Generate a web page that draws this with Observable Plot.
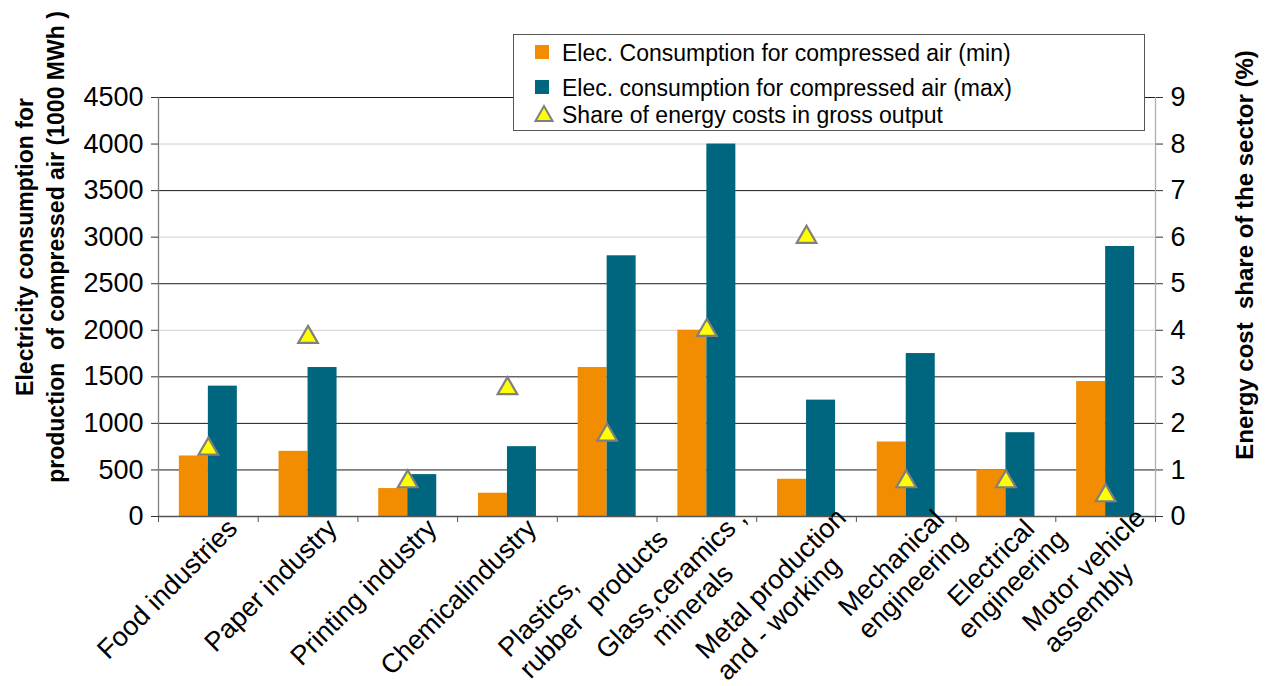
<!DOCTYPE html>
<html>
<head>
<meta charset="utf-8">
<script src="https://cdn.jsdelivr.net/npm/d3@7"></script>
<script src="https://cdn.jsdelivr.net/npm/@observablehq/plot@0.6"></script>
<style>
  body { margin: 0; background: #fff; font-family: "Liberation Sans", Arial, sans-serif; }
  #wrap { position: relative; width: 1265px; height: 686px; overflow: hidden; }
  #wrap svg text { white-space: pre; }
  #legend { position: absolute; left: 513px; top: 34px; width: 632px; height: 97px;
            border: 1.5px solid #555; background: #fff; box-sizing: border-box; }
  .row { position: absolute; left: 0; width: 100%; height: 26px; }
  .sw { position: absolute; left: 21px; top: 5px; width: 14px; height: 14px; }
  .tri { position: absolute; left: 20px; top: 2px; }
  .lbl { position: absolute; left: 48px; top: 0; font-size: 23px; line-height: 26px; color: #000; white-space: nowrap; }
</style>
</head>
<body>
<div id="wrap"></div>
<script>
// ---- data ----
const categories = [
  "Food industries",
  "Paper industry",
  "Printing industry",
  "Chemicalindustry",
  "Plastics,\nrubber  products",
  "Glass,ceramics ,\nminerals",
  "Metal production\nand - working",
  "Mechanical\nengineering",
  "Electrical\nengineering",
  "Motor vehicle\nassembly"
];
const consumptionMin = [650, 700, 300, 250, 1600, 2000, 400, 800, 500, 1450];
const consumptionMax = [1400, 1600, 450, 750, 2800, 4000, 1250, 1750, 900, 2900];
const energyShare = [1.45, 3.85, 0.75, 2.75, 1.75, 4.0, 6.0, 0.75, 0.75, 0.45];
const leftTicks = [0, 500, 1000, 1500, 2000, 2500, 3000, 3500, 4000, 4500];
const rightTicks = [0, 1, 2, 3, 4, 5, 6, 7, 8, 9];
const seriesNames = [
  "Elec. Consumption for compressed air (min)",
  "Elec. consumption for compressed air (max)",
  "Share of energy costs in gross output"
];
const leftTitle = "Electricity consumption for\nproduction  of compressed air (1000 MWh )";
const rightTitle = "Energy cost  share of the sector (%)";

// ---- styling ----
const orange = "#F28C00";
const teal = "#00657F";
const yMax = 4500, shareMax = 9;
const shareScale = yMax / shareMax;
const darkGrid = [500, 1000, 1500, 2500, 3500, 4500];
const lightGrid = [2000, 3000, 4000];
// alignment of wrapped label lines: 0 = left, 0.5 = centred
const labelAlign = [0, 0, 0, 0, 0, 0.5, 0, 0.5, 0.5, 0];
const labelSize = 27;
const labelGap = 30;

const data = categories.map((c, i) => ({
  category: c, min: consumptionMin[i], max: consumptionMax[i], share: energyShare[i]
}));

const W = 1265, H = 686, mL = 158, mR = 110, mT = 97, mB = 170;
const band = (W - mL - mR) / categories.length;
const barW = 29;
const outer = band / 2 - barW;

const font = '"Liberation Sans", Arial, sans-serif';

// rotated category labels (wrapped lines laid out like the original)
const ctx = document.createElement("canvas").getContext("2d");
ctx.font = `${labelSize}px "Liberation Sans", Arial, sans-serif`;
const c45 = Math.SQRT1_2;
const labelMarks = categories.flatMap((cat, i) => {
  const lines = cat.split("\n");
  const widths = lines.map(s => ctx.measureText(s).width);
  const Lmax = Math.max(...widths);
  const uEnd = lines.length > 1 ? 27 : 12;
  return lines.map((line, j) => {
    const pu = uEnd - (Lmax - widths[j]) * (1 - labelAlign[i]);
    const pv = 12 + j * labelGap;
    return Plot.text([cat], {
      x: d => d, text: () => line, frameAnchor: "bottom", rotate: -45,
      textAnchor: "end", lineAnchor: "top", fontSize: labelSize, fill: "#000",
      dx: (pu + pv) * c45, dy: (pv - pu) * c45
    });
  });
});

const chart = Plot.plot({
  width: W, height: H,
  marginLeft: mL, marginRight: mR, marginTop: mT, marginBottom: mB,
  style: { fontFamily: font, background: "#fff", color: "#000", overflow: "visible" },
  x: { domain: categories, padding: 0, round: false },
  y: { domain: [0, yMax] },
  marks: [
    Plot.gridY(lightGrid, { stroke: "#cfcfcf", strokeOpacity: 1 }),
    Plot.gridY(darkGrid, { stroke: "#1a1a1a", strokeOpacity: 1 }),
    Plot.barY(data, { x: "category", y: "min", fill: orange, insetLeft: outer, insetRight: band / 2 }),
    Plot.barY(data, { x: "category", y: "max", fill: teal, insetLeft: band / 2, insetRight: outer }),
    Plot.ruleX([categories[0]], { dx: -band / 2, stroke: "#808080", strokeWidth: 1.3 }),
    Plot.ruleX([categories[categories.length - 1]], { dx: band / 2, stroke: "#b0b0b0", strokeWidth: 1.3 }),
    Plot.ruleY([0], { stroke: "#555", strokeWidth: 1.3 }),
    Plot.axisY(leftTicks, { anchor: "left", tickSize: 7, tickPadding: 8, fontSize: 27, label: null, stroke: "#333",
      tickFormat: d => String(d) }),
    Plot.axisY(leftTicks, { anchor: "right", tickSize: 7, tickPadding: 8, fontSize: 27, label: null, stroke: "#333",
      tickFormat: d => String(rightTicks[Math.round(d / shareScale)]) }),
    Plot.axisX({ tickSize: 6, text: null, dx: -band / 2, stroke: "#555", label: null }),
    Plot.axisX([categories[categories.length - 1]], { tickSize: 6, text: null, dx: band / 2, stroke: "#555", label: null }),
    ...labelMarks,
    Plot.dot(data, { x: "category", y: d => d.share * shareScale, symbol: "triangle", r: 7.3,
      fill: "#FFFF00", stroke: "#808080", strokeWidth: 2.2 }),
    Plot.text([leftTitle], { text: d => d, frameAnchor: "left", rotate: -90, dx: -120, dy: -60,
      fontSize: 23, fontWeight: "bold", lineHeight: 1.35, textAnchor: "middle", lineAnchor: "middle", fill: "#000" }),
    Plot.text([rightTitle], { text: d => d, frameAnchor: "right", rotate: -90, dx: 90, dy: -52,
      fontSize: 24, fontWeight: "bold", textAnchor: "middle", lineAnchor: "middle", fill: "#000" })
  ]
});

const wrap = document.getElementById("wrap");
wrap.appendChild(chart);

// legend (overlaid on plot, as in the original)
const legend = document.createElement("div");
legend.id = "legend";
const rowsTop = [5, 40, 67];
const swatches = [orange, teal, null];
seriesNames.forEach((name, i) => {
  const row = document.createElement("div");
  row.className = "row";
  row.style.top = rowsTop[i] + "px";
  if (swatches[i]) {
    const sw = document.createElement("div");
    sw.className = "sw";
    sw.style.background = swatches[i];
    row.appendChild(sw);
  } else {
    const ns = "http://www.w3.org/2000/svg";
    const svg = document.createElementNS(ns, "svg");
    svg.setAttribute("class", "tri");
    svg.setAttribute("width", "20");
    svg.setAttribute("height", "20");
    const p = document.createElementNS(ns, "polygon");
    p.setAttribute("points", "10,2 18.5,17 1.5,17");
    p.setAttribute("fill", "#FFFF00");
    p.setAttribute("stroke", "#808080");
    p.setAttribute("stroke-width", "2");
    svg.appendChild(p);
    row.appendChild(svg);
  }
  const lbl = document.createElement("div");
  lbl.className = "lbl";
  lbl.textContent = name;
  row.appendChild(lbl);
  legend.appendChild(row);
});
wrap.appendChild(legend);
</script>
</body>
</html>
